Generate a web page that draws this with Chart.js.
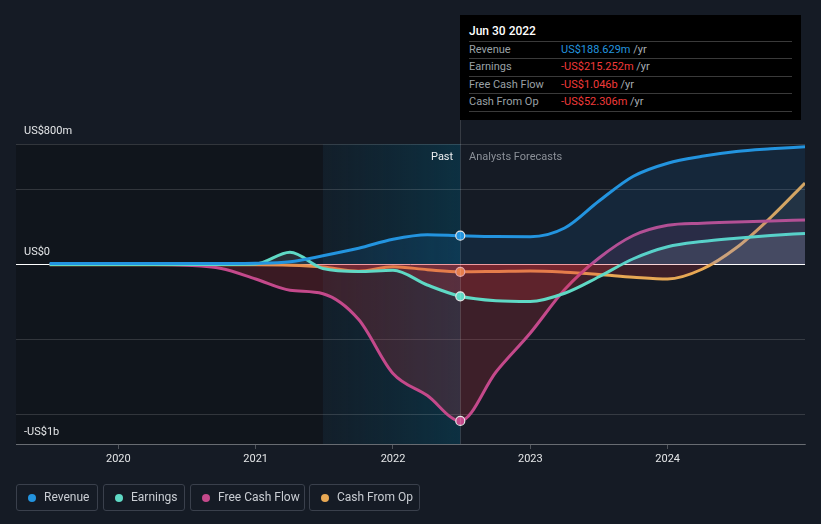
<!DOCTYPE html>
<html><head><meta charset="utf-8">
<script src="https://cdn.jsdelivr.net/npm/chart.js@4.4.1/dist/chart.umd.min.js"></script>
<style>
html,body{margin:0;padding:0;background:#151b25;width:821px;height:524px;overflow:hidden;font-family:Roboto,"Noto Sans",sans-serif;}
#c{position:absolute;left:0;top:0;}
.abs{position:absolute;white-space:nowrap;}
.ylab{color:#e4e6e8;font-size:11px;line-height:12px;}
.tip{position:absolute;left:460px;top:15px;width:341px;height:105px;background:#000;}
.tip .sep{position:absolute;left:9px;width:323px;height:1px;background:#3a3a3a;}
.tip .t{position:absolute;left:9px;font-size:12px;line-height:14px;color:#fff;font-weight:500;}
.tip .l{position:absolute;left:9px;font-size:11px;line-height:13px;color:#9aa0a6;}
.tip .v{position:absolute;left:101px;font-size:11px;line-height:13px;}
.tip .u{color:#a8adb3;}
.leg{position:absolute;top:484px;height:27px;border:1px solid #3a404c;border-radius:3px;box-sizing:border-box;color:#c9cdd3;font-size:12px;line-height:25px;}
.leg .d{position:absolute;top:9px;width:8px;height:8px;border-radius:50%;}
.leg .x{position:absolute;}
.pf{font-size:11px;line-height:13px;}
</style>
</head><body>
<canvas id="c" width="821" height="524"></canvas>

<div class="abs ylab" style="left:24px;top:125px;">US$800m</div>
<div class="abs ylab" style="left:24px;top:246px;">US$0</div>
<div class="abs ylab" style="left:24px;top:426px;">-US$1b</div>

<div class="abs pf" style="left:431px;top:150px;color:#eceef0;">Past</div>
<div class="abs pf" style="left:469px;top:150px;color:#8b9098;">Analysts Forecasts</div>

<div class="tip">
  <div class="t" style="top:9px;">Jun 30 2022</div>
  <div class="sep" style="top:26px;"></div>
  <div class="l" style="top:28px;">Revenue</div>
  <div class="v" style="top:28px;color:#2394df;">US$188.629m <span class="u">/yr</span></div>
  <div class="sep" style="top:43px;"></div>
  <div class="l" style="top:45px;">Earnings</div>
  <div class="v" style="top:45px;color:#f03a3a;">-US$215.252m <span class="u">/yr</span></div>
  <div class="sep" style="top:61px;"></div>
  <div class="l" style="top:63px;">Free Cash Flow</div>
  <div class="v" style="top:63px;color:#f03a3a;">-US$1.046b <span class="u">/yr</span></div>
  <div class="sep" style="top:78px;"></div>
  <div class="l" style="top:80px;">Cash From Op</div>
  <div class="v" style="top:80px;color:#f03a3a;">-US$52.306m <span class="u">/yr</span></div>
  <div class="sep" style="top:96px;"></div>
</div>

<div class="leg" style="left:16px;width:82px;"><span class="d" style="left:11px;background:#2394df;"></span><span class="x" style="left:27px;">Revenue</span></div>
<div class="leg" style="left:103px;width:82px;"><span class="d" style="left:11px;background:#5fd9c5;"></span><span class="x" style="left:27px;">Earnings</span></div>
<div class="leg" style="left:190px;width:115px;"><span class="d" style="left:11px;background:#c4498b;"></span><span class="x" style="left:27px;">Free Cash Flow</span></div>
<div class="leg" style="left:309px;width:111px;"><span class="d" style="left:11px;background:#e8a854;"></span><span class="x" style="left:27px;">Cash From Op</span></div>

<script>
// ---- data (US$ millions) ----
const quarters = [2019.5, 2019.75, 2020, 2020.25, 2020.5, 2020.75, 2021, 2021.25, 2021.49, 2021.75,
  2022, 2022.25, 2022.49, 2022.75, 2023, 2023.25, 2023.5, 2023.75, 2024, 2024.25, 2024.5, 2024.75, 2025];
const revenue  = [3, 3, 3, 3, 3, 3.5, 5, 15, 55, 105, 165, 195, 188.629, 183, 182, 240, 420, 585, 672, 718, 750, 768, 782];
const earnings = [-3, -3, -3, -3, -3, -3, 0, 78, -30, -50, -42, -140, -215.252, -245, -250, -195, -85, 35, 115, 150, 172, 190, 204];
const freeCashFlow = [-3, -3, -3, -3, -8, -30, -100, -175, -198, -370, -730, -877, -1046, -720, -460, -170, 40, 190, 258, 272, 280, 287, 293];
const cashFromOp = [-5, -5, -5, -5, -5, -5, -5, -8, -20, -48, -18, -38, -52.306, -50, -47, -55, -70, -88, -100, -35, 108, 310, 540];
const yearTicks = [2020, 2021, 2022, 2023, 2024];
const yTickValues = [-1200, -1000, -500, 0, 500, 800];
const pastStart = 2021.49, nowX = 2022.49;

const pts = arr => arr.map((v, i) => ({x: quarters[i], y: v}));
const belowFill = 'rgba(225,50,60,0.20)';
function ds(label, arr, color, above) {
  return {
    label, data: pts(arr), borderColor: color, borderWidth: 3,
    cubicInterpolationMode: 'monotone',
    fill: {target: 'origin', above: above, below: belowFill},
    pointRadius: c => (c.raw && c.raw.x === nowX) ? 4.5 : 0,
    pointHoverRadius: 0,
    pointBackgroundColor: color, pointBorderColor: '#e6e6e6', pointBorderWidth: 1.2
  };
}

const bgPlugin = {
  id: 'bg',
  beforeDraw(chart) {
    const {ctx, chartArea: a, scales: {x}} = chart;
    const xp = x.getPixelForValue(pastStart), xn = x.getPixelForValue(nowX);
    ctx.save();
    ctx.fillStyle = 'rgba(0,0,0,0.22)';
    ctx.fillRect(a.left, a.top, xp - a.left, a.bottom - a.top);
    const g = ctx.createLinearGradient(xp, 0, xn, 0);
    g.addColorStop(0, 'rgba(5,60,80,0.12)');
    g.addColorStop(1, 'rgba(5,70,95,0.5)');
    ctx.fillStyle = g;
    ctx.fillRect(xp, a.top, xn - xp, a.bottom - a.top);
    ctx.restore();
  },
  afterDatasetsDraw(chart) {
    const {ctx, chartArea: a, scales: {x}} = chart;
    const xn = Math.round(x.getPixelForValue(nowX)) + 0.5;
    ctx.save();
    ctx.strokeStyle = 'rgba(255,255,255,0.14)';
    ctx.lineWidth = 1;
    ctx.beginPath(); ctx.moveTo(xn, 120); ctx.lineTo(xn, a.bottom); ctx.stroke();
    ctx.restore();
  }
};

new Chart(document.getElementById('c'), {
  type: 'line',
  data: {datasets: [
    ds('Revenue', revenue, '#2394df', 'rgba(33,150,243,0.10)'),
    ds('Earnings', earnings, '#5fd9c5', 'rgba(200,215,225,0.13)'),
    ds('Free Cash Flow', freeCashFlow, '#c4498b', 'rgba(196,73,139,0.13)'),
    ds('Cash From Op', cashFromOp, '#e8a854', 'rgba(200,200,190,0.08)')
  ]},
  options: {
    responsive: false, animation: false, events: [],
    layout: {padding: {top: 144, left: 16, right: 16, bottom: 50}},
    plugins: {legend: {display: false}, tooltip: {enabled: false}},
    scales: {
      x: {
        type: 'linear', min: 2019.255, max: 2025.0,
        afterBuildTicks: s => { s.ticks = yearTicks.map(v => ({value: v})); },
        afterFit: s => { s.height = 30; },
        grid: {drawOnChartArea: false, drawTicks: true, tickLength: 5, color: 'rgba(255,255,255,0.25)'},
        border: {display: true, color: 'rgba(255,255,255,0.25)'},
        ticks: {color: '#e4e6e8', font: {family: 'Roboto', size: 11}, padding: 4, callback: v => String(v), maxRotation: 0}
      },
      y: {
        min: -1200, max: 800,
        afterBuildTicks: s => { s.ticks = yTickValues.map(v => ({value: v})); },
        afterFit: s => { s.width = 0; },
        ticks: {display: false},
        border: {display: false},
        grid: {
          drawTicks: false,
          color: c => c.tick && c.tick.value === 0 ? '#ffffff' : 'rgba(255,255,255,0.14)',
          lineWidth: 1
        }
      }
    }
  },
  plugins: [bgPlugin]
});
</script>
</body></html>
